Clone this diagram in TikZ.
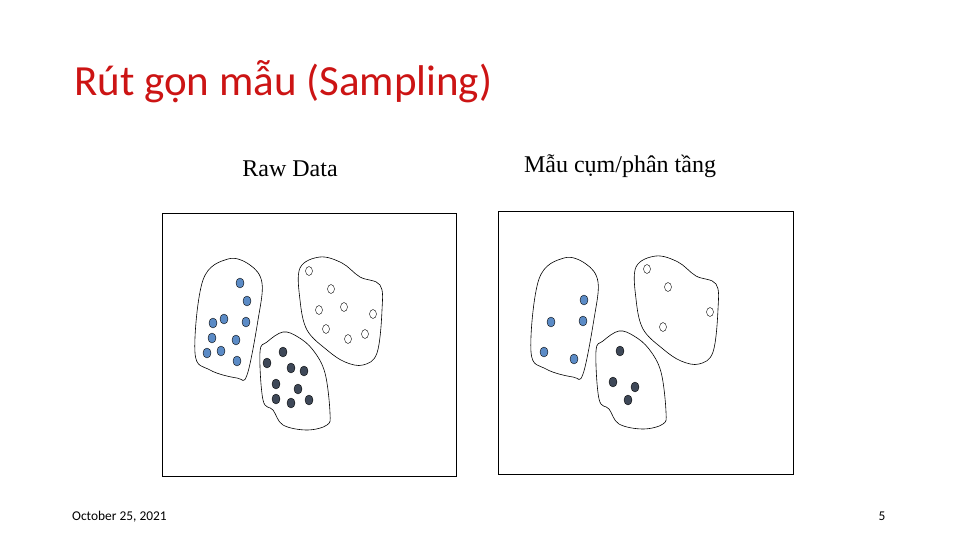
\documentclass[tikz,border=0pt]{standalone}
\usepackage{fontspec}
\setmainfont{Liberation Serif}
\newfontfamily\calib{Carlito}
\begin{document}
\begin{tikzpicture}[x=1pt,y=-1pt,
  blob/.style={draw,line width=0.6pt,fill=white},
  bdot/.style={draw,thin,fill={rgb,255:red,91;green,139;blue,198}},
  ddot/.style={draw,thin,fill={rgb,255:red,62;green,72;blue,88}},
  wdot/.style={draw,thin,fill=white},
  panel/.style={draw,line width=0.8pt}]
\useasboundingbox (0,0) rectangle (960,540);
\definecolor{titlered}{RGB}{204,20,20}
\node[anchor=base west,inner sep=0,text=titlered,font=\calib\fontsize{43}{46}\selectfont] (title) at (74,96) {Rút gọn mẫu (Sampling)};
\node[anchor=base,inner sep=0,font=\fontsize{24}{28}\selectfont] (raw) at (290,176) {Raw Data};
\node[anchor=base,inner sep=0,font=\fontsize{24}{28}\selectfont] (mau) at (620,172) {Mẫu cụm/phân tầng};
\node[anchor=base west,inner sep=0,font=\calib\fontsize{13.4}{15}\selectfont] (date) at (72,520) {October 25, 2021};
\node[anchor=base,inner sep=0,font=\calib\fontsize{13.4}{15}\selectfont] (pg) at (882,520) {5};
\draw[panel] (162,213) rectangle (456,476);
\draw[panel] (498,211) rectangle (793,474);
\foreach \dx/\dy/\full in {0/0/1,336/-1/0}{
\begin{scope}[shift={(\dx,\dy)}]
\draw[blob] plot[smooth cycle,tension=0.6] coordinates {(228,259)(250,265)(262,283)(258,320)(247,375)(237,378)(210,370)(195,353)(203,280)};
\draw[blob] plot[smooth cycle,tension=0.6] coordinates {(300,268)(320,257)(342,263)(360,277)(380,285)(382,310)(377,353)(363,365)(345,362)(327,350)(307,330)(300,300)};
\draw[blob] plot[smooth cycle,tension=0.6] coordinates {(260,352)(267,342)(283,332)(298,337)(313,350)(325,373)(330,413)(327,425)(307,430)(283,425)(273,410)(263,400)};
\end{scope}}
\foreach \p in {(240,283),(247,301),(246,322),(224,319),(213,323),(212,338),(236,340),(221,351),(207,353),(237,361),
  (584,300),(551,322),(583,321),(544,352),(574,359)}
  \draw[bdot] \p ellipse (4 and 5);
\foreach \p in {(309,271),(331,289),(319,310),(344,307),(373,314),(326,329),(348,339),(365,334),
  (647,269),(668,287),(710,312),(663,327)}
  \draw[wdot] \p ellipse (3.5 and 4.5);
\foreach \p in {(283,352),(267,363),(291,368),(304,371),(276,384),(298,389),(276,399),(291,403),(309,400),
  (620,351),(613,382),(635,387),(628,400)}
  \draw[ddot] \p ellipse (4 and 5);
\end{tikzpicture}
\end{document}
